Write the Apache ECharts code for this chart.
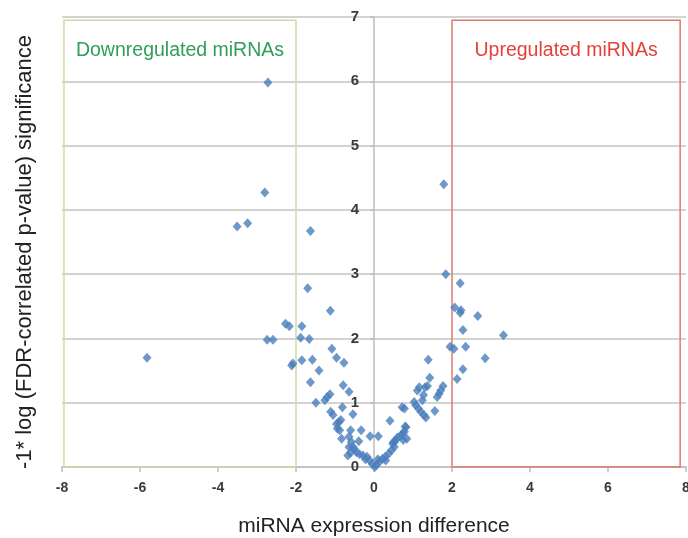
<!DOCTYPE html>
<html>
<head>
<meta charset="utf-8">
<script src="https://cdn.jsdelivr.net/npm/echarts@6/dist/echarts.min.js"></script>
<style>
html,body{margin:0;padding:0;background:#fff;}
#chart{width:688px;height:538px;}
</style>
</head>
<body>
<div id="chart"></div>
<script>
// ---- data ----
const xTicks = [-8, -6, -4, -2, 0, 2, 4, 6, 8];
const yTicks = [0, 1, 2, 3, 4, 5, 6, 7];
const xTitle = "miRNA expression difference";
const yTitle = "-1* log (FDR-correlated p-value) significance";
const downLabel = "Downregulated miRNAs";
const upLabel = "Upregulated miRNAs";
const downBox = [[-7.95, 0], [-2, 6.95]];
const upBox = [[2, 0], [7.85, 6.95]];

// expression difference (x) and significance (y) per miRNA
const diffValues = [
  -2.72, -2.80, -3.51, -3.24, -1.63, 1.79, -5.82,
  -1.70, -1.12, -2.27, -2.17, -1.85, -2.74, -2.59, -1.88, -1.66, -1.08, -0.96,
  -2.11, -2.08, -1.85, -1.58, -1.41, -1.63, -1.26, -1.20, -1.13, -1.49,
  -0.77, -0.79, -0.64, -1.11, -1.05, -0.81, -0.96, -0.90, -0.85, -0.94, -0.88,
  -0.60, -0.33, -0.83, -0.64, -0.39, -0.10, 0.11, -0.54, -0.58, -0.64, -0.54,
  -0.67, -0.45, -0.37, -0.28, -0.18, -0.11, -0.05, 0.02, 0.06, 0.14, 0.22, 0.29,
  0.38, 0.45, 0.52, 0.52, 0.48, -0.50, -0.22, 0.10, 0.30, -0.60,
  0.41, 0.69, 0.78, 0.82, 0.84, 0.75, 0.80, 0.73, 0.72, 0.78, 1.03, 1.07, 1.14,
  1.20, 1.28, 1.33, 1.56, 1.11, 1.16, 1.31, 1.27, 1.24, 1.37, 1.43, 1.39,
  1.62, 1.67, 1.71, 1.77, 0.56, 0.50, 0.60,
  1.84, 2.21, 2.07, 2.23, 2.21, 2.66, 2.28, 3.32, 1.95, 2.05, 2.35, 2.85, 2.28, 2.13
];
const sigValues = [
  5.98, 4.27, 3.74, 3.79, 3.67, 4.40, 1.70,
  2.78, 2.43, 2.23, 2.19, 2.19, 1.98, 1.98, 2.01, 1.99, 1.84, 1.70,
  1.58, 1.61, 1.66, 1.67, 1.50, 1.32, 1.04, 1.09, 1.13, 1.00,
  1.62, 1.27, 1.17, 0.86, 0.81, 0.93, 0.67, 0.70, 0.73, 0.60, 0.57,
  0.57, 0.57, 0.44, 0.47, 0.40, 0.48, 0.48, 0.82, 0.39, 0.31, 0.31,
  0.18, 0.23, 0.20, 0.18, 0.16, 0.10, 0.05, 0.00, 0.03, 0.08, 0.13, 0.16,
  0.21, 0.26, 0.31, 0.39, 0.36, 0.28, 0.12, 0.12, 0.10, 0.22,
  0.72, 0.49, 0.55, 0.62, 0.44, 0.42, 0.63, 0.52, 0.93, 0.91, 1.01, 0.96, 0.91,
  0.86, 0.81, 0.77, 0.87, 1.19, 1.24, 1.24, 1.12, 1.04, 1.26, 1.39, 1.67,
  1.09, 1.14, 1.19, 1.26, 0.42, 0.39, 0.46,
  3.00, 2.86, 2.48, 2.44, 2.40, 2.35, 2.13, 2.05, 1.87, 1.84, 1.87, 1.69, 1.52, 1.37
];

const points = diffValues.map((x, i) => [x, sigValues[i]]);
const FONT = "'Liberation Sans', Arial, sans-serif";

const chart = echarts.init(document.getElementById('chart'), null, {renderer: 'canvas'});
chart.setOption({
  animation: false,
  backgroundColor: '#ffffff',
  grid: {left: 62, right: 2, top: 17, bottom: 71, containLabel: false, outerBoundsMode: 'none'},
  xAxis: {
    type: 'value',
    min: xTicks[0], max: xTicks[xTicks.length - 1], interval: 2,
    axisLine: {onZero: false, lineStyle: {color: '#bdbdbd', width: 1.5}},
    axisTick: {show: true, length: 5, lineStyle: {color: '#bdbdbd', width: 1.5}},
    axisLabel: {color: '#3a3a3a', fontSize: 14, fontWeight: 'bold', fontFamily: FONT, margin: 14},
    splitLine: {show: false}
  },
  yAxis: {
    type: 'value',
    position: 'left',
    offset: -312,
    min: yTicks[0], max: yTicks[yTicks.length - 1], interval: 1,
    axisLine: {onZero: false, lineStyle: {color: '#bdbdbd', width: 1.5}},
    axisTick: {show: true, length: 4, lineStyle: {color: '#bdbdbd', width: 1.5}},
    axisLabel: {color: '#3a3a3a', fontSize: 15, fontWeight: 'bold', fontFamily: FONT, margin: 15},
    splitLine: {show: true, lineStyle: {color: '#c4c4c4', width: 1.5}}
  },
  graphic: [
    {type: 'text', x: 374, y: 526,
     style: {text: xTitle, fill: '#222', font: '21px ' + FONT, textAlign: 'center', textVerticalAlign: 'middle'}},
    {type: 'text', x: 25, y: 252, rotation: Math.PI / 2,
     style: {text: yTitle, fill: '#222', font: '22px ' + FONT, textAlign: 'center', textVerticalAlign: 'middle'}}
  ],
  series: [{
    type: 'scatter',
    data: points,
    symbol: 'diamond',
    symbolSize: [9, 10],
    itemStyle: {color: '#4a7ebb'},
    markArea: {
      silent: true,
      data: [
        [{coord: downBox[0], name: downLabel,
          itemStyle: {color: 'rgba(0,0,0,0)', borderColor: '#cddba6', borderWidth: 1.5},
          label: {color: '#2f9e58'}},
         {coord: downBox[1]}],
        [{coord: upBox[0], name: upLabel,
          itemStyle: {color: 'rgba(0,0,0,0)', borderColor: '#e07a68', borderWidth: 1.5},
          label: {color: '#e2423a'}},
         {coord: upBox[1]}]
      ],
      label: {show: true, position: 'insideTop', distance: 21, fontSize: 19.5, fontFamily: FONT}
    }
  }]
});
</script>
</body>
</html>
